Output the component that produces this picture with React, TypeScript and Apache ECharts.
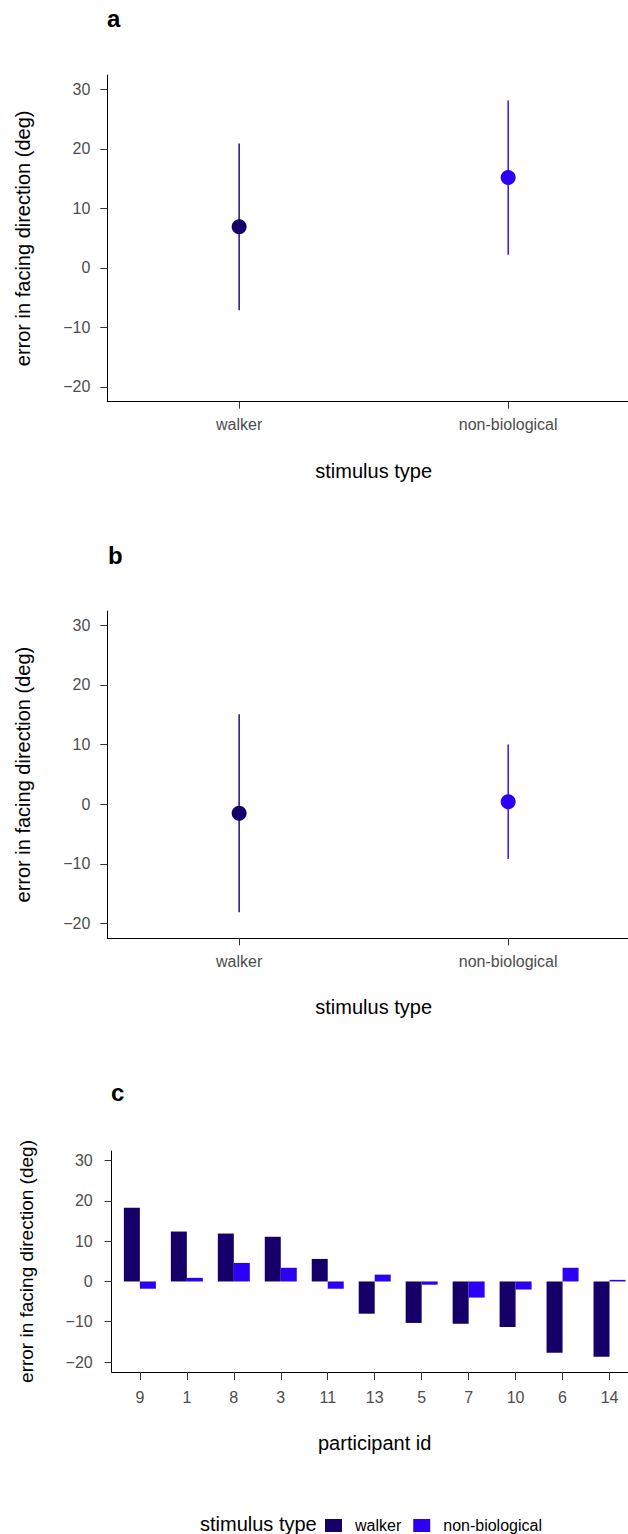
import React, { useEffect, useRef } from "react";
import * as echarts from "echarts";

const stimulusTypes = ["walker", "non-biological"];
const seriesColors = ["#15006A", "#2B00F5"];

// panel a
const panelAMean = [6.9, 15.2];
const panelALow = [-7.1, 2.2];
const panelAHigh = [20.9, 28.1];

// panel b
const panelBMean = [-1.5, 0.4];
const panelBLow = [-18.1, -9.2];
const panelBHigh = [15.1, 10.0];

// panel c
const participantIds = ["9", "1", "8", "3", "11", "13", "5", "7", "10", "6", "14"];
const walkerError = [18.3, 12.4, 11.9, 11.1, 5.6, -8.0, -10.3, -10.5, -11.3, -17.7, -18.7];
const nonBioError = [-1.8, 0.9, 4.6, 3.4, -1.8, 1.7, -0.8, -4.0, -2.0, 3.4, 0.4];

const yTicks = [-20, -10, 0, 10, 20, 30];
const yTitle = "error in facing direction (deg)";

const FONT = '"Liberation Sans", Arial, Helvetica, sans-serif';

function fmtNum(v: number) {
  return String(v).replace("-", "\u2212");
}

function yAxisCfg(gridIndex: number, margin: number, nameGap: number, nameSize: number) {
  return {
    type: "value",
    gridIndex,
    min: -22.48,
    max: 32.4,
    axisLine: { show: true, onZero: false, lineStyle: { color: "#000", width: 1 } },
    axisTick: { show: true, length: 7, lineStyle: { color: "#333", width: 1 }, customValues: yTicks },
    axisLabel: {
      customValues: yTicks,
      margin,
      color: "#4D4D4D",
      fontSize: 16,
      fontFamily: FONT,
      formatter: (v: number) => fmtNum(v),
    },
    splitLine: { show: false },
    name: yTitle,
    nameLocation: "middle",
    nameRotate: 90,
    nameGap,
    nameTextStyle: { fontSize: nameSize, color: "#000", fontFamily: FONT },
  };
}

function stimXAxis(gridIndex: number) {
  return {
    type: "value",
    gridIndex,
    min: 0.51,
    max: 2.49,
    axisLine: { show: true, onZero: false, lineStyle: { color: "#000", width: 1 } },
    axisTick: { show: true, length: 7, lineStyle: { color: "#333", width: 1 }, customValues: [1, 2] },
    axisLabel: {
      customValues: [1, 2],
      margin: 15,
      color: "#4D4D4D",
      fontSize: 16,
      fontFamily: FONT,
      formatter: (v: number) => stimulusTypes[Math.round(v) - 1] || "",
    },
    splitLine: { show: false },
    name: "stimulus type",
    nameLocation: "middle",
    nameGap: 59,
    nameTextStyle: { fontSize: 20, color: "#000", fontFamily: FONT },
  };
}

function errorBarSeries(idx: number, low: number[], high: number[]) {
  return {
    type: "custom",
    name: "err" + idx,
    xAxisIndex: idx,
    yAxisIndex: idx,
    data: low.map((l, i) => [i + 1, l, high[i]]),
    renderItem: (params: any, api: any) => {
      const x = api.value(0);
      const p1 = api.coord([x, api.value(1)]);
      const p2 = api.coord([x, api.value(2)]);
      return {
        type: "line",
        shape: { x1: p1[0], y1: p1[1], x2: p2[0], y2: p2[1] },
        style: { stroke: seriesColors[params.dataIndex], lineWidth: 1.4 },
      };
    },
  };
}

function meanSeries(idx: number, mean: number[]) {
  return {
    type: "scatter",
    name: "mean" + idx,
    xAxisIndex: idx,
    yAxisIndex: idx,
    symbol: "circle",
    symbolSize: 15,
    data: mean.map((m, i) => ({ value: [i + 1, m], itemStyle: { color: seriesColors[i], opacity: 1 } })),
  };
}

export default function App() {
  const ref = useRef<HTMLDivElement>(null);
  useEffect(() => {
    if (!ref.current) return;
    const chart = echarts.init(ref.current, undefined, { renderer: "svg" });
    const option: any = {
      animation: false,
      backgroundColor: "#fff",
      textStyle: { fontFamily: FONT },
      grid: [
        { left: 107.3, top: 75, width: 532.7, height: 326.7, containLabel: false, outerBoundsMode: "none" },
        { left: 107.3, top: 611, width: 532.7, height: 327.3, containLabel: false, outerBoundsMode: "none" },
        { left: 111.7, top: 1151, width: 526, height: 221, containLabel: false, outerBoundsMode: "none" },
      ],
      xAxis: [
        stimXAxis(0),
        stimXAxis(1),
        {
          type: "value",
          gridIndex: 2,
          min: -0.6,
          max: 10.6,
          axisLine: { show: true, onZero: false, lineStyle: { color: "#000", width: 1 } },
          axisTick: {
            show: true,
            length: 8,
            lineStyle: { color: "#333", width: 1 },
            customValues: participantIds.map((_, i) => i),
          },
          axisLabel: {
            customValues: participantIds.map((_, i) => i),
            margin: 17.5,
            color: "#4D4D4D",
            fontSize: 16,
            fontFamily: FONT,
            formatter: (v: number) => participantIds[Math.round(v)] || "",
          },
          splitLine: { show: false },
          name: "participant id",
          nameLocation: "middle",
          nameGap: 61,
          nameTextStyle: { fontSize: 20, color: "#000", fontFamily: FONT },
        },
      ],
      yAxis: [yAxisCfg(0, 17, 74, 20), yAxisCfg(1, 17, 74, 20), yAxisCfg(2, 19, 76, 19)],
      legend: {
        data: stimulusTypes,
        left: 325,
        top: 1517.5,
        orient: "horizontal",
        icon: "rect",
        itemWidth: 17,
        itemHeight: 13,
        itemGap: 12,
        selectedMode: false,
        padding: 0,
        textStyle: { fontSize: 16, color: "#000", fontFamily: FONT, padding: [0, 0, 0, 8] },
      },
      graphic: [
        { type: "text", left: 107, top: 6, style: { text: "a", fontSize: 24, fontWeight: "bold", fill: "#000", fontFamily: FONT } },
        { type: "text", left: 108, top: 543, style: { text: "b", fontSize: 24, fontWeight: "bold", fill: "#000", fontFamily: FONT } },
        { type: "text", left: 111, top: 1080, style: { text: "c", fontSize: 24, fontWeight: "bold", fill: "#000", fontFamily: FONT } },
        { type: "text", left: 200, top: 1514, style: { text: "stimulus type", fontSize: 20, fill: "#000", fontFamily: FONT } },
      ],
      series: [
        errorBarSeries(0, panelALow, panelAHigh),
        meanSeries(0, panelAMean),
        errorBarSeries(1, panelBLow, panelBHigh),
        meanSeries(1, panelBMean),
        {
          type: "bar",
          name: stimulusTypes[0],
          xAxisIndex: 2,
          yAxisIndex: 2,
          barWidth: 16,
          barGap: "0%",
          itemStyle: { color: seriesColors[0] },
          data: walkerError.map((v, i) => [i, v]),
        },
        {
          type: "bar",
          name: stimulusTypes[1],
          xAxisIndex: 2,
          yAxisIndex: 2,
          barWidth: 16,
          barGap: "0%",
          itemStyle: { color: seriesColors[1] },
          data: nonBioError.map((v, i) => [i, v]),
        },
      ],
    };
    chart.setOption(option);
    return () => chart.dispose();
  }, []);
  return (
    <div style={{ position: "absolute", left: 0, top: 0, width: 628, height: 1534, overflow: "hidden", background: "#fff" }}>
      <div ref={ref} style={{ width: 640, height: 1534 }} />
    </div>
  );
}
